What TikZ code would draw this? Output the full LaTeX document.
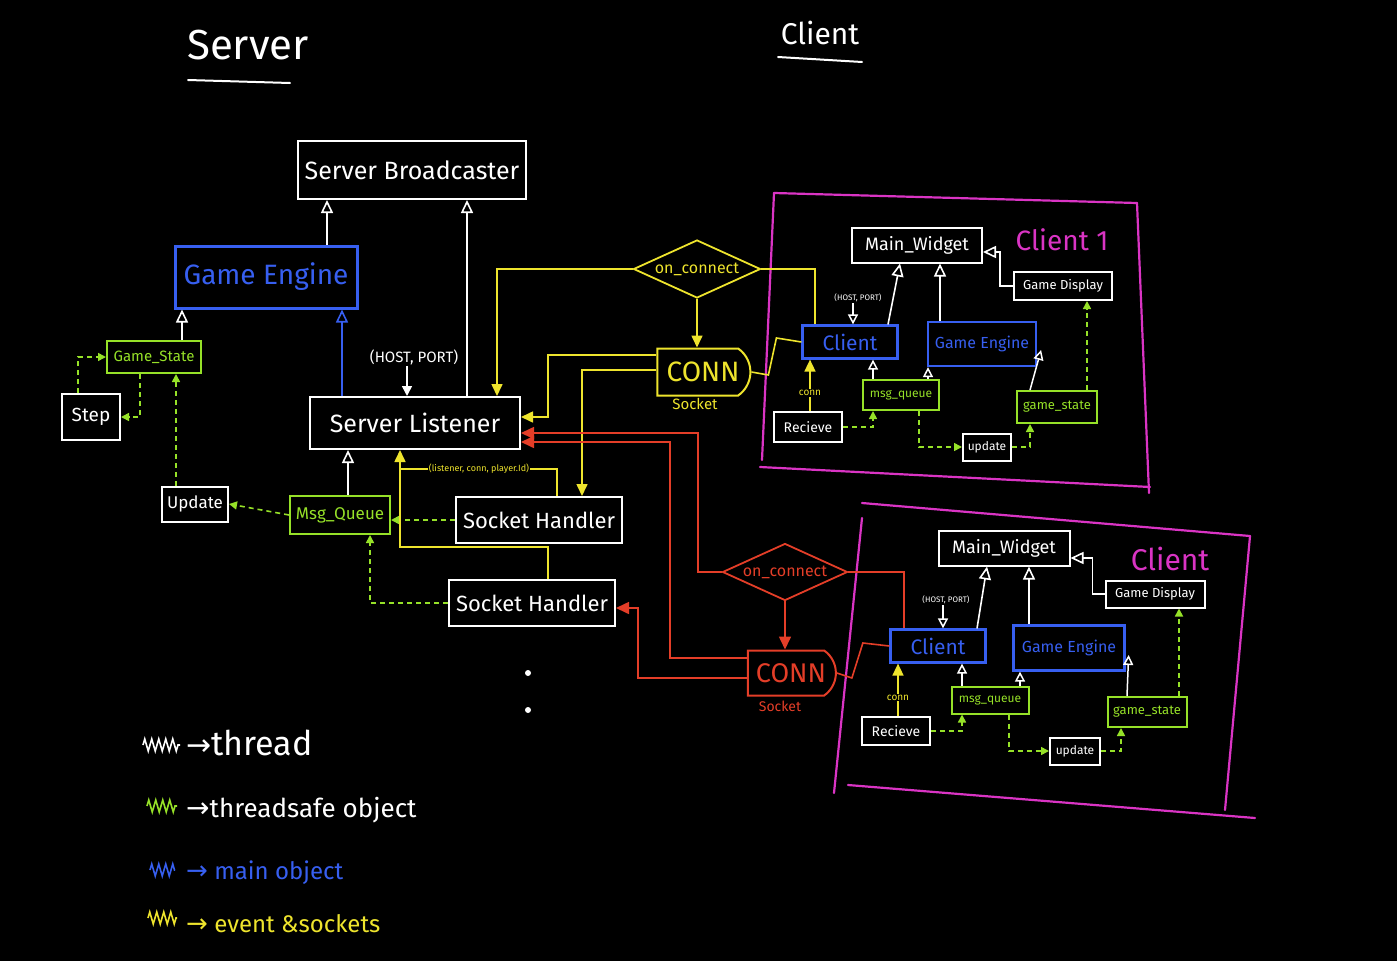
\documentclass[tikz,border=0pt]{standalone}
\usepackage{fontspec}
\setmainfont{Fira Sans}
\newfontfamily\symf{DejaVu Sans}
\usetikzlibrary{arrows.meta,shapes.geometric,shapes.misc,decorations.pathmorphing}
\newcommand\fsz[1]{\fontsize{#1}{#1}\selectfont}
\definecolor{cblue}{RGB}{55,95,240}
\definecolor{cgreen}{RGB}{150,225,40}
\definecolor{cyellow}{RGB}{238,228,45}
\definecolor{cred}{RGB}{228,62,40}
\definecolor{cmag}{RGB}{218,52,196}
\tikzset{
 wbox/.style={draw=white, text=white, line width=2pt, inner sep=0pt, rectangle},
 gbox/.style={draw=cgreen, text=cgreen, line width=2pt, inner sep=0pt, rectangle},
 bbox/.style={draw=cblue, text=cblue, line width=2.2pt, inner sep=0pt, rectangle},
 lbl/.style={inner sep=1pt},
 warr/.style={draw=white, line width=1.6pt, -{Triangle[open, length=13pt, width=12pt]}},
 wsarr/.style={draw=white, line width=1.5pt, -{Triangle[open, length=10pt, width=10pt]}},
 barr/.style={draw=cblue, line width=1.6pt, -{Triangle[open, length=13pt, width=12pt]}},
 gdash/.style={draw=cgreen, line width=1.6pt, dash pattern=on 5pt off 4pt, -{Triangle[length=8pt,width=8pt]}},
 yarr/.style={draw=cyellow, line width=1.6pt, -{Triangle[length=12pt,width=11pt]}},
 yline/.style={draw=cyellow, line width=1.6pt},
 rarr/.style={draw=cred, line width=1.6pt, -{Triangle[length=13pt,width=12pt]}},
 rline/.style={draw=cred, line width=1.6pt},
 mline/.style={draw=cmag, line width=2.2pt, line cap=round},
 conn/.style={rounded rectangle, rounded rectangle left arc=none, rounded rectangle arc length=110, line width=2pt, inner sep=0pt},
 dia/.style={diamond, aspect=2.2, line width=1.8pt, inner sep=0pt},
 zz/.style={line width=1.6pt, decorate, decoration={zigzag, segment length=7pt, amplitude=6pt}}
}
\begin{document}
\begin{tikzpicture}[x=1pt,y=-1pt]
\fill[black] (0,0) rectangle (1397,961);
\useasboundingbox (0,0) rectangle (1397,961);

% ---------- titles
\node[text=white, font=\fsz{42}] (tserver) at (248,45) {Server};
\draw[white, line width=2pt, line cap=round] (188,80) -- (290,83);
\node[text=white, font=\fsz{30}] (tclient) at (820,33) {Client};
\draw[white, line width=2pt, line cap=round] (778,57) -- (862,62);

% ---------- server nodes
\node[wbox, minimum width=228pt, minimum height=58pt, font=\fsz{25}] (sb) at (412,170) {Server Broadcaster};
\node[bbox, line width=3pt, minimum width=182pt, minimum height=62pt, font=\fsz{28}] (ge) at (266,277) {Game Engine};
\node[gbox, minimum width=94pt, minimum height=32pt, font=\fsz{15}] (gs) at (154,357) {Game\_State};
\node[wbox, minimum width=58pt, minimum height=46pt, font=\fsz{19}] (step) at (91,417) {Step};
\node[wbox, minimum width=210pt, minimum height=52pt, font=\fsz{25}] (sl) at (415,423) {Server Listener};
\node[wbox, minimum width=66pt, minimum height=35pt, font=\fsz{17}] (upd) at (195,504) {Update};
\node[gbox, minimum width=100pt, minimum height=38pt, font=\fsz{17}] (mq) at (340,515) {Msg\_Queue};
\node[wbox, minimum width=166pt, minimum height=46pt, font=\fsz{22}] (sh1) at (539,520) {Socket Handler};
\node[wbox, minimum width=166pt, minimum height=46pt, font=\fsz{22}] (sh2) at (532,603) {Socket Handler};
\node[lbl, text=white, font=\fsz{15}] (hp) at (414,357) {(HOST, PORT)};
\node[lbl, text=cyellow, font=\fsz{9}] (lcp) at (479,469) {(listener, conn, player.Id)};
\fill[white] (528,673) circle (3pt);
\fill[white] (528,710) circle (3pt);

% ---------- server connectors
\draw[warr] ([xshift=61]ge.north) -- ([xshift=61]ge.north |- sb.south);
\draw[warr] ([xshift=52]sl.north) -- ([xshift=52]sl.north |- sb.south);
\draw[warr] ([xshift=28]gs.north) -- ([xshift=28]gs.north |- ge.south);
\draw[barr] ([xshift=-73]sl.north) -- ([xshift=-73]sl.north |- ge.south);
\draw[white, line width=1.6pt, -{Triangle[length=10pt,width=10pt]}] ([xshift=-7]hp.south) -- ([xshift=-7]hp.south |- sl.north);
\draw[gdash] ([xshift=-13]step.north) |- (gs.west);
\draw[gdash] ([xshift=-14]gs.south) |- (step.east);
\draw[gdash] ([xshift=-19]upd.north) -- ([xshift=-19]upd.north |- gs.south);
\draw[gdash] (mq.west) -- (upd.east);
\draw[gdash] (sh1.west) -- (sh1.west -| mq.east);
\draw[gdash] (sh2.west) -| ([xshift=30]mq.south);
\draw[warr] ([xshift=8]mq.north) -- ([xshift=8]mq.north |- sl.south);
\coordinate (yj) at (400,547);
\draw[yarr] ([xshift=16]sh2.north) |- (yj) -- (yj |- sl.south);
\draw[yline] ([xshift=18]sh1.north) |- (lcp.east);
\draw[yline] (lcp.west) -- (lcp.west -| yj);

% ---------- yellow events / socket (client 1)
\node[dia, draw=cyellow, text=cyellow, minimum width=127pt, minimum height=58pt, font=\fsz{16}] (d1) at (697,269) {on\_connect};
\node[conn, draw=cyellow, text=cyellow, minimum width=93pt, minimum height=47pt, font=\fsz{28}] (c1) at (703,372) {CONN};
\node[lbl, text=cyellow, font=\fsz{15}] (sk1) at (695,404) {Socket};
\draw[yarr] (d1.west) -| ([xshift=82]sl.north);
\draw[yarr] (d1.south) -- (d1.south |- c1.north);
\coordinate (yk) at (548,417);
\draw[yarr] ([yshift=17]c1.west) -| (yk) -- (yk -| sl.east);
\draw[yarr] ([yshift=2]c1.west) -| ([xshift=43]sh1.north);

% ---------- client 1
\draw[mline] (774,193) -- (1137,203);
\draw[mline] (1137,203) -- (1149,493);
\draw[mline] (760,467) -- (1150,487);
\draw[mline] (774,193) -- (762,460);
\node[text=cmag, font=\fsz{28}] (ct1) at (1062,240) {Client 1};
\node[wbox, minimum width=130pt, minimum height=35pt, font=\fsz{18}] (mw1) at (917,245) {Main\_Widget};
\node[wbox, minimum width=98pt, minimum height=28pt, font=\fsz{13}] (gd1) at (1063,286) {Game Display};
\node[bbox, minimum width=95pt, minimum height=33pt, font=\fsz{21}] (cl1) at (850,342) {Client};
\node[bbox, minimum width=108pt, minimum height=44pt, font=\fsz{16}] (gen1) at (982,344) {Game Engine};
\node[gbox, minimum width=76pt, minimum height=30pt, font=\fsz{12}] (mq1) at (901,395) {msg\_queue};
\node[gbox, minimum width=80pt, minimum height=32pt, font=\fsz{13}] (gst1) at (1057,407) {game\_state};
\node[wbox, minimum width=68pt, minimum height=30pt, font=\fsz{14}] (rc1) at (808,427) {Recieve};
\node[wbox, minimum width=48pt, minimum height=27pt, font=\fsz{12}] (up1) at (987,447) {update};
\node[lbl, text=white, font=\fsz{8}] (hp1) at (858,298) {(HOST, PORT)};

\draw[yline] (d1.east) -| ([xshift=-35]cl1.north);
\draw[yline] (c1.east) -- ++(17,3) -- ++(8,-37) -- (cl1.west);
\draw[wsarr] ([xshift=-5]hp1.south) -- ([xshift=-5]hp1.south |- cl1.north);
\draw[warr] ([xshift=38]cl1.north) -- ([xshift=-17]mw1.south);
\draw[warr] ([xshift=-42]gen1.north) -- ([xshift=-42]gen1.north |- mw1.south);
\draw[warr] (gd1.west) -- ++(-13,0) |- ([yshift=-7]mw1.east);
\draw[wsarr] ([xshift=-28]mq1.north) -- ([xshift=-28]mq1.north |- cl1.south);
\draw[wsarr] ([xshift=27]mq1.north) -- ([xshift=27]mq1.north |- gen1.south);
\draw[wsarr] ([xshift=-27]gst1.north) -- ([xshift=4,yshift=-6]gen1.east);
\draw[gdash] ([xshift=30]gst1.north) -- ([xshift=30]gst1.north |- gd1.south);
\draw[yarr] ([xshift=2]rc1.north) -- node[pos=0.35, fill=black, inner sep=1pt, text=cyellow, font=\fsz{10}] {conn} ([xshift=2]rc1.north |- cl1.south);
\draw[gdash] (rc1.east) -| ([xshift=-28]mq1.south);
\draw[gdash] ([xshift=18]mq1.south) |- (up1.west);
\draw[gdash] (up1.east) -| ([xshift=-27]gst1.south);

% ---------- red events / socket (client 2)
\node[dia, draw=cred, text=cred, minimum width=125pt, minimum height=57pt, font=\fsz{16}] (d2) at (785,572) {on\_connect};
\node[conn, draw=cred, text=cred, minimum width=88pt, minimum height=45pt, font=\fsz{27}] (c2) at (791,673) {CONN};
\node[lbl, text=cred, font=\fsz{14}] (sk2) at (780,706) {Socket};
\draw[rarr] (d2.south) -- (d2.south |- c2.north);
\coordinate (rA) at (698,433);
\coordinate (rB) at (670,442);
\coordinate (rC) at (638,608);
\draw[rarr] (d2.west) -| (rA) -- (rA -| sl.east);
\draw[rarr] ([yshift=15]c2.west) -| (rB) -- (rB -| sl.east);
\draw[rarr] ([yshift=-5]c2.west) -| (rC) -- (rC -| sh2.east);

% ---------- client 2
\draw[mline] (862,503) -- (1250,536);
\draw[mline] (1250,536) -- (1225,810);
\draw[mline] (848,785) -- (1255,818);
\draw[mline] (862,518) -- (834,793);
\node[text=cmag, font=\fsz{30}] (ct2) at (1170,559) {Client};
\node[wbox, minimum width=131pt, minimum height=35pt, font=\fsz{18}] (mw2) at (1004,548) {Main\_Widget};
\node[wbox, minimum width=99pt, minimum height=27pt, font=\fsz{13}] (gd2) at (1155,594) {Game Display};
\node[bbox, minimum width=95pt, minimum height=33pt, font=\fsz{21}] (cl2) at (938,646) {Client};
\node[bbox, minimum width=111pt, minimum height=45pt, font=\fsz{16}] (gen2) at (1069,648) {Game Engine};
\node[gbox, minimum width=77pt, minimum height=27pt, font=\fsz{12}] (mq2) at (990,700) {msg\_queue};
\node[gbox, minimum width=79pt, minimum height=30pt, font=\fsz{13}] (gst2) at (1147,712) {game\_state};
\node[wbox, minimum width=68pt, minimum height=28pt, font=\fsz{14}] (rc2) at (896,731) {Recieve};
\node[wbox, minimum width=50pt, minimum height=27pt, font=\fsz{12}] (up2) at (1075,751) {update};
\node[lbl, text=white, font=\fsz{8}] (hp2) at (946,600) {(HOST, PORT)};

\draw[rline] (d2.east) -| ([xshift=-34]cl2.north);
\draw[rline] (c2.east) -- ++(15,5) -- ++(11,-35) -- (cl2.west);
\draw[wsarr] ([xshift=-3]hp2.south) -- ([xshift=-3]hp2.south |- cl2.north);
\draw[warr] ([xshift=39]cl2.north) -- ([xshift=-17]mw2.south);
\draw[warr] ([xshift=-40]gen2.north) -- ([xshift=-40]gen2.north |- mw2.south);
\draw[warr] (gd2.west) -- ++(-12,0) |- ([yshift=-10]mw2.east);
\draw[wsarr] ([xshift=-28]mq2.north) -- ([xshift=-28]mq2.north |- cl2.south);
\draw[wsarr] ([xshift=30]mq2.north) -- ([xshift=30]mq2.north |- gen2.south);
\draw[wsarr] ([xshift=-20]gst2.north) -- ([xshift=3,yshift=-7]gen2.east);
\draw[gdash] ([xshift=32]gst2.north) -- ([xshift=32]gst2.north |- gd2.south);
\draw[yarr] ([xshift=2]rc2.north) -- node[pos=0.35, fill=black, inner sep=1pt, text=cyellow, font=\fsz{10}] {conn} ([xshift=2]rc2.north |- cl2.south);
\draw[gdash] (rc2.east) -| ([xshift=-28]mq2.south);
\draw[gdash] ([xshift=19]mq2.south) |- (up2.west);
\draw[gdash] (up2.east) -| ([xshift=-26]gst2.south);

% ---------- legend
\draw[zz, white] (143,745) -- (180,745);
\node[anchor=west, text=white, font=\fsz{34}, inner sep=0pt] (lg1) at (186,743) {{\symf\fsz{30}→}thread};
\draw[zz, cgreen] (147,806) -- (177,806);
\node[anchor=west, text=white, font=\fsz{26}, inner sep=0pt] (lg2) at (186,810) {{\symf\fsz{28}→}threadsafe object};
\draw[zz, cblue] (150,870) -- (175,870);
\node[anchor=west, text=cblue, font=\fsz{24}, inner sep=0pt] (lg3) at (186,873) {{\symf\fsz{26}→} main object};
\draw[zz, cyellow] (148,918) -- (177,918);
\node[anchor=west, text=cyellow, font=\fsz{24}, inner sep=0pt] (lg4) at (186,924) {{\symf\fsz{26}→} event \&sockets};
\end{tikzpicture}
\end{document}
